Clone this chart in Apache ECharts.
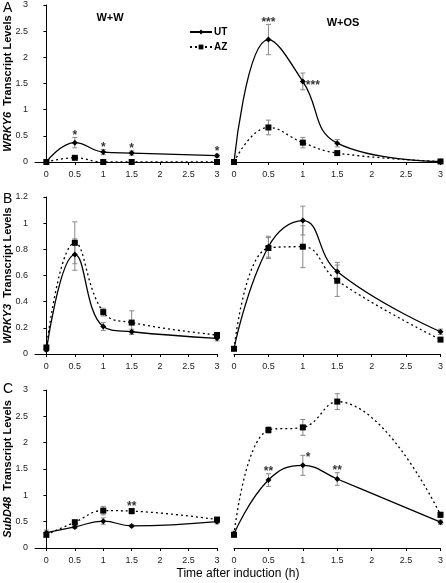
<!DOCTYPE html>
<html><head><meta charset="utf-8">
<script src="https://cdn.jsdelivr.net/npm/echarts@6/dist/echarts.min.js"></script>
<style>html,body{margin:0;padding:0;background:#fff}#c{width:446px;height:583px}</style>
</head><body><div id="c"></div><script>
// ---- data ----
const times = [0, 0.5, 1, 1.5, 3];
const xTickValues = [0, 0.5, 1, 1.5, 2, 2.5, 3];

// A: WRKY6
const wrky6_WW_UT = [0, 0.37, 0.19, 0.17, 0.12];
const wrky6_WW_UT_err = [0.01, 0.10, 0.05, 0.04, 0.03];
const wrky6_WW_AZ = [0, 0.08, 0, 0, 0];
const wrky6_WW_AZ_err = [0, 0, 0, 0, 0];
const wrky6_WOS_UT = [0, 2.34, 1.54, 0.36, 0.01];
const wrky6_WOS_UT_err = [0, 0.29, 0.16, 0.07, 0.01];
const wrky6_WOS_AZ = [0, 0.66, 0.37, 0.17, 0.01];
const wrky6_WOS_AZ_err = [0, 0.14, 0.10, 0.03, 0];
const stars_wrky6_WW_UT = ['', '*', '*', '*', '*'];
const stars_wrky6_WOS_UT = ['', '***', '***', '', ''];

// B: WRKY3
const wrky3_WW_UT = [0.03, 0.76, 0.21, 0.17, 0.12];
const wrky3_WW_UT_err = [0.01, 0.12, 0.03, 0.02, 0.02];
const wrky3_WW_AZ = [0.05, 0.85, 0.32, 0.24, 0.145];
const wrky3_WW_AZ_err = [0.01, 0.16, 0.03, 0.09, 0.02];
const wrky3_WOS_UT = [0.04, 0.82, 1.02, 0.63, 0.17];
const wrky3_WOS_UT_err = [0.01, 0.08, 0.11, 0.07, 0.02];
const wrky3_WOS_AZ = [0.04, 0.81, 0.82, 0.56, 0.11];
const wrky3_WOS_AZ_err = [0.01, 0.08, 0.16, 0.12, 0.01];

// C: SubD48
const subd48_WW_UT = [0.29, 0.40, 0.51, 0.42, 0.50];
const subd48_WW_UT_err = [0.05, 0.03, 0.06, 0.02, 0.04];
const subd48_WW_AZ = [0.25, 0.49, 0.71, 0.70, 0.54];
const subd48_WW_AZ_err = [0.03, 0.03, 0.08, 0.05, 0.03];
const subd48_WOS_UT = [0.27, 1.29, 1.57, 1.31, 0.49];
const subd48_WOS_UT_err = [0.05, 0.12, 0.19, 0.12, 0.04];
const subd48_WOS_AZ = [0.25, 2.24, 2.29, 2.78, 0.63];
const subd48_WOS_AZ_err = [0.03, 0.06, 0.15, 0.15, 0.05];
const stars_subd48_WW_AZ = ['', '', '', '**', ''];
const stars_subd48_WOS_UT = ['', '**', '*', '**', ''];

const yMax = [3, 1.2, 3];
const yInterval = [0.5, 0.2, 0.5];
const geneNames = ['WRKY6', 'WRKY3', 'SubD48'];

// ---- layout ----
const FONT = 'Liberation Sans, Arial, sans-serif';
const rowTop = [5, 197, 390];
const rowH = [157, 157, 158];
const grids = [];
const xAxes = [];
const yAxes = [];
for (let r = 0; r < 3; r++) {
  for (let c = 0; c < 2; c++) {
    grids.push(c === 0
      ? {left: 35, top: rowTop[r], width: 182, height: rowH[r]}
      : {left: 234, top: rowTop[r], width: 208, height: rowH[r]});
    const gi = r * 2 + c;
    xAxes.push({
      type: 'value', gridIndex: gi, min: c === 0 ? -0.2 : 0, max: 3,
      axisLine: {show: true, onZero: false, lineStyle: {color: '#000', width: 1}},
      axisTick: {show: true, length: 3, lineStyle: {color: '#000'}, customValues: xTickValues},
      axisLabel: {show: true, color: '#222', fontSize: 9, fontFamily: FONT, margin: 8, customValues: xTickValues},
      splitLine: {show: false}
    });
    yAxes.push({
      type: 'value', gridIndex: gi, min: 0, max: yMax[r], interval: yInterval[r],
      axisLine: {show: c === 0, lineStyle: {color: '#000', width: 1}},
      axisTick: {show: c === 0, length: 3, lineStyle: {color: '#000'}},
      axisLabel: {show: c === 0, color: '#222', fontSize: 9, fontFamily: FONT, margin: 7},
      splitLine: {show: false},
      name: c === 0 ? '{i|' + geneNames[r] + '}  Transcript Levels' : '',
      nameLocation: 'middle', nameGap: 22, nameRotate: 90, nameMoveOverlap: false,
      nameTextStyle: {color: '#000', fontSize: 11, fontWeight: 'bold', fontFamily: FONT,
        rich: {i: {fontStyle: 'italic', fontWeight: 'bold', fontSize: 11, fontFamily: FONT, color: '#000'}}}
    });
  }
}

function pairs(vals) { return times.map((t, i) => [t, vals[i]]); }
function errData(vals, errs) { return times.map((t, i) => [t, vals[i], errs[i]]); }

const series = [];
function addErr(gi, vals, errs) {
  series.push({
    type: 'custom', xAxisIndex: gi, yAxisIndex: gi, silent: true, z: 1,
    data: errData(vals, errs),
    renderItem: function (params, api) {
      const x = api.value(0), y = api.value(1), e = api.value(2);
      if (!e) return null;
      const top = api.coord([x, y + e]);
      const bot = api.coord([x, Math.max(0, y - e)]);
      const w = 2.5;
      const st = {stroke: '#888', lineWidth: 1, fill: null};
      return {type: 'group', children: [
        {type: 'line', shape: {x1: top[0], y1: top[1], x2: bot[0], y2: bot[1]}, style: st},
        {type: 'line', shape: {x1: top[0] - w, y1: top[1], x2: top[0] + w, y2: top[1]}, style: st},
        {type: 'line', shape: {x1: bot[0] - w, y1: bot[1], x2: bot[0] + w, y2: bot[1]}, style: st}
      ]};
    }
  });
}
function addLine(gi, name, vals) {
  const ut = name === 'UT';
  series.push({
    type: 'line', name: name, xAxisIndex: gi, yAxisIndex: gi, z: 3,
    data: pairs(vals), smooth: 0.45,
    symbol: ut ? 'diamond' : 'rect', symbolSize: ut ? 6 : 6,
    itemStyle: {color: '#000'},
    lineStyle: {color: '#000', width: 1.3, type: ut ? 'solid' : [2, 3]}
  });
}
function addStars(gi, vals, errs, stars, sides) {
  const data = [];
  times.forEach((t, i) => {
    if (stars[i]) data.push({value: [t, vals[i] + errs[i], stars[i]], side: sides ? sides[i] : 'top'});
  });
  series.push({
    type: 'scatter', xAxisIndex: gi, yAxisIndex: gi, symbolSize: 0, silent: true, z: 4,
    data: data.map(d => ({
      value: d.value,
      label: {show: true, formatter: p => p.value[2], position: d.side === 'right' ? 'right' : 'top',
        distance: d.side === 'right' ? 3 : 0, offset: d.side === 'right' ? [0, 2] : [0, 4],
        color: '#000', fontSize: 12, fontWeight: 'bold', fontFamily: FONT}
    }))
  });
}

const panels = [
  [wrky6_WW_UT, wrky6_WW_UT_err, wrky6_WW_AZ, wrky6_WW_AZ_err],
  [wrky6_WOS_UT, wrky6_WOS_UT_err, wrky6_WOS_AZ, wrky6_WOS_AZ_err],
  [wrky3_WW_UT, wrky3_WW_UT_err, wrky3_WW_AZ, wrky3_WW_AZ_err],
  [wrky3_WOS_UT, wrky3_WOS_UT_err, wrky3_WOS_AZ, wrky3_WOS_AZ_err],
  [subd48_WW_UT, subd48_WW_UT_err, subd48_WW_AZ, subd48_WW_AZ_err],
  [subd48_WOS_UT, subd48_WOS_UT_err, subd48_WOS_AZ, subd48_WOS_AZ_err]
];
panels.forEach((p, gi) => {
  addErr(gi, p[0], p[1]);
  addErr(gi, p[2], p[3]);
});
panels.forEach((p, gi) => {
  addLine(gi, 'UT', p[0]);
  addLine(gi, 'AZ', p[2]);
});
addStars(0, wrky6_WW_UT, wrky6_WW_UT_err, stars_wrky6_WW_UT);
addStars(1, wrky6_WOS_UT, wrky6_WOS_UT_err.map((e, i) => i === 2 ? -0.05 : e), stars_wrky6_WOS_UT, ['top', 'top', 'right', 'top', 'top']);
addStars(4, subd48_WW_AZ, subd48_WW_AZ_err, stars_subd48_WW_AZ);
addStars(5, subd48_WOS_UT, subd48_WOS_UT_err, stars_subd48_WOS_UT, ['top', 'top', 'right', 'top', 'top']);

const chart = echarts.init(document.getElementById('c'), null, {renderer: 'canvas'});
chart.setOption({
  animation: false,
  backgroundColor: '#fff',
  grid: grids, xAxis: xAxes, yAxis: yAxes, series: series,
  legend: {
    data: ['UT', 'AZ'], orient: 'vertical', left: 184, top: 22, itemWidth: 22, itemHeight: 6, itemGap: 5,
    textStyle: {color: '#000', fontSize: 10, fontWeight: 'bold', fontFamily: FONT, padding: [0, 0, 0, -3]},
    selectedMode: false
  },
  graphic: [
    {type: 'text', left: 3, top: 1, style: {text: 'A', fontSize: 14, fontFamily: FONT, fill: '#000'}},
    {type: 'text', left: 3, top: 192, style: {text: 'B', fontSize: 14, fontFamily: FONT, fill: '#000'}},
    {type: 'text', left: 3, top: 382, style: {text: 'C', fontSize: 14, fontFamily: FONT, fill: '#000'}},
    {type: 'text', x: 110, y: 18, style: {text: 'W+W', fontSize: 11, fontWeight: 'bold', fontFamily: FONT, fill: '#000', align: 'center', verticalAlign: 'middle'}},
    {type: 'text', x: 343, y: 23, style: {text: 'W+OS', fontSize: 11, fontWeight: 'bold', fontFamily: FONT, fill: '#000', align: 'center', verticalAlign: 'middle'}},
    {type: 'text', x: 238, y: 574, style: {text: 'Time after induction (h)', fontSize: 12, fontFamily: FONT, fill: '#000', align: 'center', verticalAlign: 'middle'}}
  ]
});
</script></body></html>
